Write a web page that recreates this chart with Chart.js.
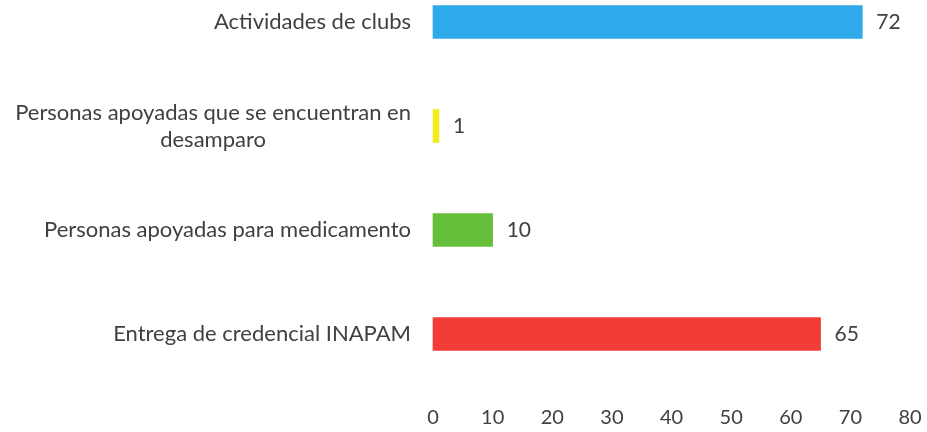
<!DOCTYPE html>
<html>
<head>
<meta charset="utf-8">
<script src="https://cdn.jsdelivr.net/npm/chart.js@4"></script>
<style>
  html, body { margin: 0; padding: 0; background: #ffffff; }
  #wrap { width: 927px; height: 432px; position: relative; }
</style>
</head>
<body>
<div id="wrap"><canvas id="barChart"></canvas></div>
<script>
// datos del gráfico
const categorias = [
    "Actividades de clubs",
    ["Personas apoyadas que se encuentran en", "desamparo"],
    "Personas apoyadas para medicamento",
    "Entrega de credencial INAPAM",
];
const valores = [72, 1, 10, 65];
const colores = ["#2eaaea", "#f2ec1e", "#66bf3a", "#f13c38"];
const ticksX = [0, 10, 20, 30, 40, 50, 60, 70, 80];

const FUENTE = "Lato, 'Open Sans', sans-serif";
const COLOR_TEXTO = "#404040";

// etiquetas del eje y (líneas centradas entre sí, bloque alineado a la derecha)
const etiquetasY = {
    id: "etiquetasY",
    afterDraw(chart) {
        const ctx = chart.ctx;
        const y = chart.scales.y;
        const derecha = chart.chartArea.left - 22;
        const alto = 27;
        ctx.save();
        ctx.font = "22px " + FUENTE;
        ctx.fillStyle = COLOR_TEXTO;
        ctx.textAlign = "center";
        ctx.textBaseline = "middle";
        categorias.forEach((cat, i) => {
            const lineas = Array.isArray(cat) ? cat : [cat];
            const ancho = Math.max(...lineas.map(l => ctx.measureText(l).width));
            const cx = derecha - ancho / 2;
            const cy = y.getPixelForValue(i);
            lineas.forEach((l, j) => {
                ctx.fillText(l, cx, cy + (j - (lineas.length - 1) / 2) * alto);
            });
        });
        ctx.restore();
    },
};

// valores al final de cada barra
const etiquetasValor = {
    id: "etiquetasValor",
    afterDatasetsDraw(chart) {
        const ctx = chart.ctx;
        const meta = chart.getDatasetMeta(0);
        ctx.save();
        ctx.font = "21px " + FUENTE;
        ctx.fillStyle = COLOR_TEXTO;
        ctx.textAlign = "left";
        ctx.textBaseline = "middle";
        meta.data.forEach((bar, i) => {
            ctx.fillText(String(valores[i]), bar.x + 14, bar.y);
        });
        ctx.restore();
    },
};

new Chart(document.getElementById("barChart").getContext("2d"), {
    type: "bar",
    data: {
        labels: categorias,
        datasets: [
            {
                data: valores,
                backgroundColor: colores,
                borderWidth: 0,
                barThickness: 33,
                clip: false,
            },
        ],
    },
    options: {
        indexAxis: "y",
        responsive: true,
        maintainAspectRatio: false,
        animation: false,
        layout: { padding: { top: 22, right: 17, left: 0, bottom: 0 } },
        plugins: {
            legend: { display: false },
            tooltip: { enabled: false },
        },
        scales: {
            x: {
                min: 0,
                max: 80,
                afterBuildTicks(scale) {
                    scale.ticks = ticksX.map(v => ({ value: v }));
                },
                afterFit(scale) {
                    scale.height = 98;
                    scale.paddingLeft = 0;
                    scale.paddingRight = 0;
                },
                grid: { display: false, drawTicks: false },
                border: { display: false },
                ticks: {
                    padding: 72,
                    color: COLOR_TEXTO,
                    font: { family: FUENTE, size: 20 },
                    maxRotation: 0,
                },
            },
            y: {
                offset: false,
                afterFit(scale) {
                    scale.width = 433;
                    scale.paddingTop = 0;
                    scale.paddingBottom = 0;
                },
                grid: { display: false, drawTicks: false },
                border: { display: false },
                ticks: { display: false },
            },
        },
    },
    plugins: [etiquetasY, etiquetasValor],
});
</script>
</body>
</html>
